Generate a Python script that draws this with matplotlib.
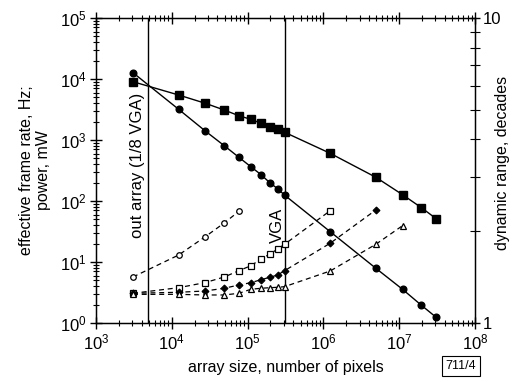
import matplotlib
matplotlib.use("Agg")
import matplotlib.pyplot as plt
from matplotlib.ticker import LogLocator, FixedLocator, FixedFormatter, NullFormatter

plt.rcParams['font.family'] = ['Liberation Sans', 'DejaVu Sans']
plt.rcParams['mathtext.fontset'] = 'custom'
plt.rcParams['mathtext.rm'] = 'Liberation Sans'
plt.rcParams['mathtext.it'] = 'Liberation Sans:italic'

# array sizes (pixels)
sizes = [3072, 12288, 27648, 49152, 76800, 110592, 150528, 196608, 248832,
         307200, 1228800, 4915200, 11059200, 19660800, 30720000]

# effective frame rate (filled circles), Hz
frame_rate = [12700, 3190, 1405, 807, 520, 364, 270, 199, 159, 125,
              31.4, 7.9, 3.57, 1.95, 1.24]
# power (filled squares), mW
power = [9030, 5470, 4000, 3100, 2500, 2180, 1880, 1630, 1500, 1340,
         605, 245, 127, 77.6, 51.3]

# dashed series
open_circles = [5.68, 13.0, 26.0, 43.6, 67.8]
open_squares = [3.07, 3.79, 4.6, 5.68, 7.2, 8.7, 11.2, 13.5, 16.3, 19.5, 69.3]
diamonds = [3.07, 3.19, 3.35, 3.71, 4.20, 4.58, 5.13, 5.61, 6.12, 7.20, 20.3, 71.2]
triangles = [2.95, 2.95, 2.88, 2.88, 3.07, 3.57, 3.71, 3.79, 3.85, 3.94, 7.12, 19.5, 39.4]

out_array_size = 4800
vga_size = 307200

fig = plt.figure(figsize=(5.15, 3.82), dpi=100)
ax = fig.add_axes([96/515, 1-323/382, (475-96)/515, (323-18)/382])

ax.set_xscale('log')
ax.set_yscale('log')
ax.set_xlim(1e3, 1e8)
ax.set_ylim(1e0, 1e5)

# vertical reference lines
ax.axvline(out_array_size, color='black', lw=1.0)
ax.axvline(vga_size, color='black', lw=1.0)

# solid series
ax.plot(sizes, frame_rate, '-', color='black', lw=1.0, marker='o', ms=4.8,
        mfc='black', mec='black')
ax.plot(sizes, power, '-', color='black', lw=1.0, marker='s', ms=5.2,
        mfc='black', mec='black')

dash = (0, (4, 3))
ax.plot(sizes[:len(open_circles)], open_circles, color='black', lw=0.9,
        linestyle=dash, marker='o', ms=4, mfc='white', mec='black', mew=0.9)
ax.plot(sizes[:len(open_squares)], open_squares, color='black', lw=0.9,
        linestyle=dash, marker='s', ms=4.5, mfc='white', mec='black', mew=0.9)
ax.plot(sizes[:len(diamonds)], diamonds, color='black', lw=0.9,
        linestyle=dash, marker='D', ms=3.5, mfc='black', mec='black', mew=0.8)
ax.plot(sizes[:len(triangles)], triangles, color='black', lw=0.9,
        linestyle=dash, marker='^', ms=4.5, mfc='white', mec='black', mew=0.9)

# ticks
ax.xaxis.set_major_locator(LogLocator(base=10, numticks=10))
ax.xaxis.set_minor_locator(LogLocator(base=10, subs=range(2, 10), numticks=10))
ax.yaxis.set_major_locator(LogLocator(base=10, numticks=10))
ax.yaxis.set_minor_locator(LogLocator(base=10, subs=range(2, 10), numticks=10))
ax.xaxis.set_minor_formatter(NullFormatter())
ax.yaxis.set_minor_formatter(NullFormatter())
ax.tick_params(which='major', direction='inout', length=8, width=1.0,
               top=True, right=False, labelsize=12, pad=3)
ax.tick_params(which='minor', direction='inout', length=5, width=0.8,
               top=True, right=False)

for s in ax.spines.values():
    s.set_linewidth(1.0)

ax.set_xlabel('array size, number of pixels', fontsize=11.5, labelpad=5)
ax.set_ylabel('effective frame rate, Hz;\npower, mW', fontsize=11.5,
              labelpad=6, linespacing=1.2)

# right axis: dynamic range
ax2 = ax.twinx()
ax2.set_yscale('log')
ax2.set_ylim(1, 10)
ax2.yaxis.set_major_locator(FixedLocator([1, 10]))
ax2.yaxis.set_major_formatter(FixedFormatter(['1', '10']))
ax2.yaxis.set_minor_locator(FixedLocator([2, 3, 4, 5, 6, 7, 8, 9]))
ax2.yaxis.set_minor_formatter(NullFormatter())
ax2.tick_params(which='major', direction='inout', length=7, width=1.0,
                labelsize=12, pad=2)
ax2.tick_params(which='minor', direction='inout', length=7, width=0.8)

fig.text(503/515, 1-163/382, 'dynamic range, decades', rotation=90,
         ha='center', va='center', fontsize=11.5)

# annotations
ax.text(3550, 10**((323-165)/61), 'out array (1/8 VGA)', rotation=90,
        ha='center', va='center', fontsize=12)
ax.text(245000, 10**((323-225)/61), 'VGA', rotation=90,
        ha='center', va='center', fontsize=12)

fig.text(461/515, 1-366/382, '711/4', ha='center', va='center', fontsize=9,
         bbox=dict(boxstyle='square,pad=0.3', fc='white', ec='black', lw=0.8))

fig.savefig('out.png', dpi=100)
